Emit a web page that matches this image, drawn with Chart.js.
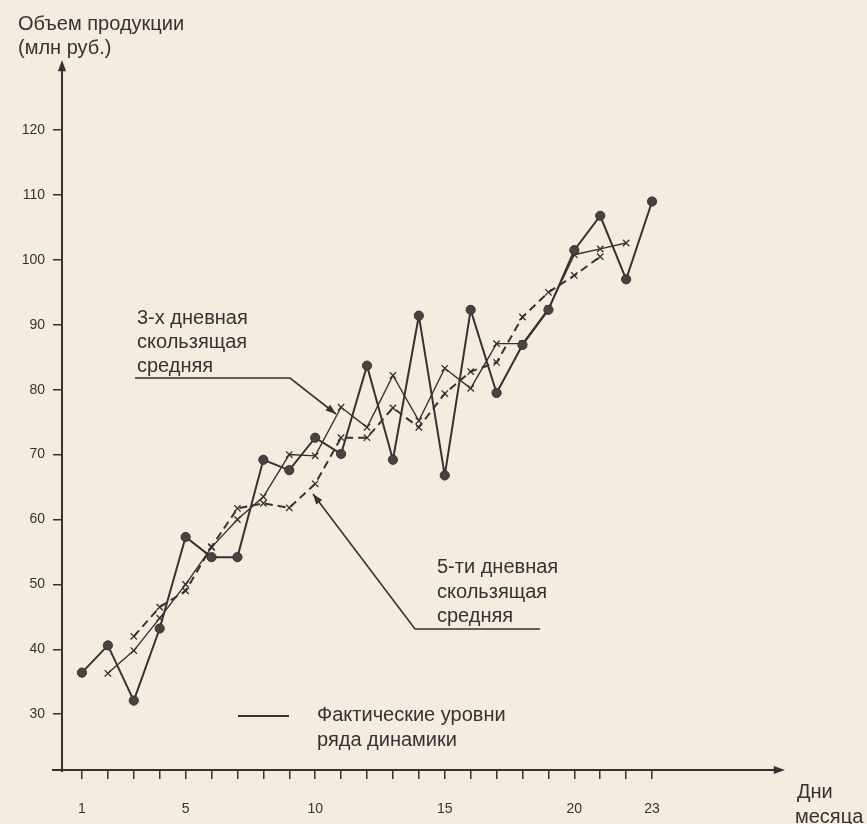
<!DOCTYPE html>
<html lang="ru">
<head>
<meta charset="utf-8">
<title>Скользящие средние</title>
<script src="https://cdn.jsdelivr.net/npm/chart.js@4/dist/chart.umd.min.js"></script>
<style>
  html, body { margin: 0; padding: 0; background: #f3ecdf; }
  #wrap { width: 867px; height: 824px; position: relative; }
</style>
</head>
<body>
<div id="wrap"><canvas id="chart" width="867" height="824"></canvas></div>
<script>
// ── Data ──────────────────────────────────────────────────
const days     = [1, 2, 3, 4, 5, 6, 7, 8, 9, 10, 11, 12, 13, 14, 15, 16, 17, 18, 19, 20, 21, 22, 23];
const dayLabels = [1, 5, 10, 15, 20, 23];
const yTicks   = [30, 40, 50, 60, 70, 80, 90, 100, 110, 120];

const actual = [36.4, 40.6, 32.1, 43.2, 57.3, 54.2, 54.2, 69.2, 67.6, 72.6, 70.1, 83.7,
                69.2, 91.4, 66.8, 92.3, 79.5, 86.9, 92.3, 101.5, 106.8, 97.0, 109.0];
const ma3    = [null, 36.3, 39.8, 44.8, 50.0, 55.7, 60.0, 63.5, 70.0, 69.8, 77.3, 74.2,
                82.2, 75.2, 83.3, 80.2, 87.1, 87.1, 92.5, 100.8, 101.7, 102.6, null];
const ma5    = [null, null, 42.0, 46.5, 49.0, 55.8, 61.7, 62.5, 61.8, 65.5, 72.6, 72.6,
                77.2, 74.2, 79.4, 82.8, 84.2, 91.2, 95.0, 97.6, 100.5, null, null];

const INK = '#353331';
const FONT = '"Liberation Sans", Arial, sans-serif';

const toXY = arr => days.map((d, i) => ({ x: d, y: arr[i] })).filter(p => p.y !== null);

function arrowHead(ctx, x1, y1, x2, y2, size) {
  const a = Math.atan2(y2 - y1, x2 - x1);
  ctx.beginPath();
  ctx.moveTo(x2, y2);
  ctx.lineTo(x2 - size * Math.cos(a - 0.35), y2 - size * Math.sin(a - 0.35));
  ctx.lineTo(x2 - size * Math.cos(a + 0.35), y2 - size * Math.sin(a + 0.35));
  ctx.closePath();
  ctx.fill();
}

function leader(ctx, pts) {
  ctx.beginPath();
  ctx.moveTo(pts[0][0], pts[0][1]);
  pts.slice(1).forEach(p => ctx.lineTo(p[0], p[1]));
  ctx.stroke();
  const a = pts[pts.length - 2], b = pts[pts.length - 1];
  arrowHead(ctx, a[0], a[1], b[0], b[1], 11);
}

// ── Decorations: axes with arrows, notes, legend ─────────
const decor = {
  id: 'decor',
  afterDraw(chart) {
    const ctx = chart.ctx;
    const { left, right, top, bottom } = chart.chartArea;
    ctx.save();
    ctx.strokeStyle = INK;
    ctx.fillStyle = INK;
    ctx.lineWidth = 2;

    // axes
    ctx.beginPath();
    ctx.moveTo(left, bottom + 2);
    ctx.lineTo(left, top + 4);
    ctx.moveTo(left - 10, bottom);
    ctx.lineTo(right - 4, bottom);
    ctx.stroke();
    arrowHead(ctx, left, bottom, left, top, 12);
    arrowHead(ctx, left, bottom, right, bottom, 12);

    ctx.textBaseline = 'middle';
    ctx.textAlign = 'left';
    ctx.font = `20px ${FONT}`;

    // axis titles
    ctx.fillText('Объем продукции', 18, 24);
    ctx.fillText('(млн руб.)', 18, 48);
    ctx.fillText('Дни', 797, 792);
    ctx.fillText('месяца', 795, 817);

    // 3-day note
    ctx.fillText('3-х дневная', 137, 318);
    ctx.fillText('скользящая', 137, 342);
    ctx.fillText('средняя', 137, 366);
    ctx.lineWidth = 1.6;
    leader(ctx, [[135, 378], [290, 378], [336, 414]]);

    // 5-day note
    ctx.fillText('5-ти дневная', 437, 567);
    ctx.fillText('скользящая', 437, 592);
    ctx.fillText('средняя', 437, 616);
    leader(ctx, [[540, 629], [415, 629], [313, 494]]);

    // legend for actual levels
    ctx.lineWidth = 2;
    ctx.beginPath();
    ctx.moveTo(238, 716);
    ctx.lineTo(289, 716);
    ctx.stroke();
    ctx.fillText('Фактические уровни', 317, 715);
    ctx.fillText('ряда динамики', 317, 740);

    ctx.restore();
  }
};

new Chart(document.getElementById('chart'), {
  type: 'line',
  data: {
    datasets: [
      {
        label: 'Фактические уровни ряда динамики',
        data: toXY(actual),
        borderColor: INK,
        backgroundColor: '#464341',
        borderWidth: 2,
        pointRadius: 4.6,
        pointBorderWidth: 1,
        pointBorderColor: INK,
        tension: 0,
      },
      {
        label: '3-х дневная скользящая средняя',
        data: toXY(ma3),
        borderColor: INK,
        borderWidth: 1.4,
        pointStyle: 'crossRot',
        pointRadius: 4.5,
        pointBorderWidth: 1.3,
        pointBorderColor: INK,
        tension: 0,
      },
      {
        label: '5-ти дневная скользящая средняя',
        data: toXY(ma5),
        borderColor: INK,
        borderWidth: 2,
        borderDash: [8, 5],
        pointStyle: 'crossRot',
        pointRadius: 4.5,
        pointBorderWidth: 1.3,
        pointBorderColor: INK,
        tension: 0,
      },
    ],
  },
  options: {
    responsive: false,
    animation: false,
    layout: { padding: { left: 0, top: 60, right: 82, bottom: 0 } },
    plugins: { legend: { display: false }, tooltip: { enabled: false } },
    scales: {
      x: {
        type: 'linear',
        min: 0.23,
        max: 28.13,
        afterBuildTicks: s => { s.ticks = days.map(v => ({ value: v })); },
        afterFit: s => { s.height = 54; },
        border: { display: false },
        grid: { drawOnChartArea: false, drawTicks: true, tickLength: 9, color: INK, lineWidth: 1.5 },
        ticks: {
          color: INK,
          padding: 22,
          font: { family: FONT, size: 14 },
          autoSkip: false,
          maxRotation: 0,
          callback: v => (dayLabels.includes(v) ? String(v) : ''),
        },
      },
      y: {
        min: 21.4,
        max: 130.8,
        afterBuildTicks: s => { s.ticks = yTicks.map(v => ({ value: v })); },
        afterFit: s => { s.width = 62; },
        border: { display: false },
        grid: { drawOnChartArea: false, drawTicks: true, tickLength: 9, color: INK, lineWidth: 1.5 },
        ticks: {
          color: INK,
          padding: 8,
          font: { family: FONT, size: 14 },
          callback: v => String(v),
        },
      },
    },
  },
  plugins: [decor],
});
</script>
</body>
</html>
